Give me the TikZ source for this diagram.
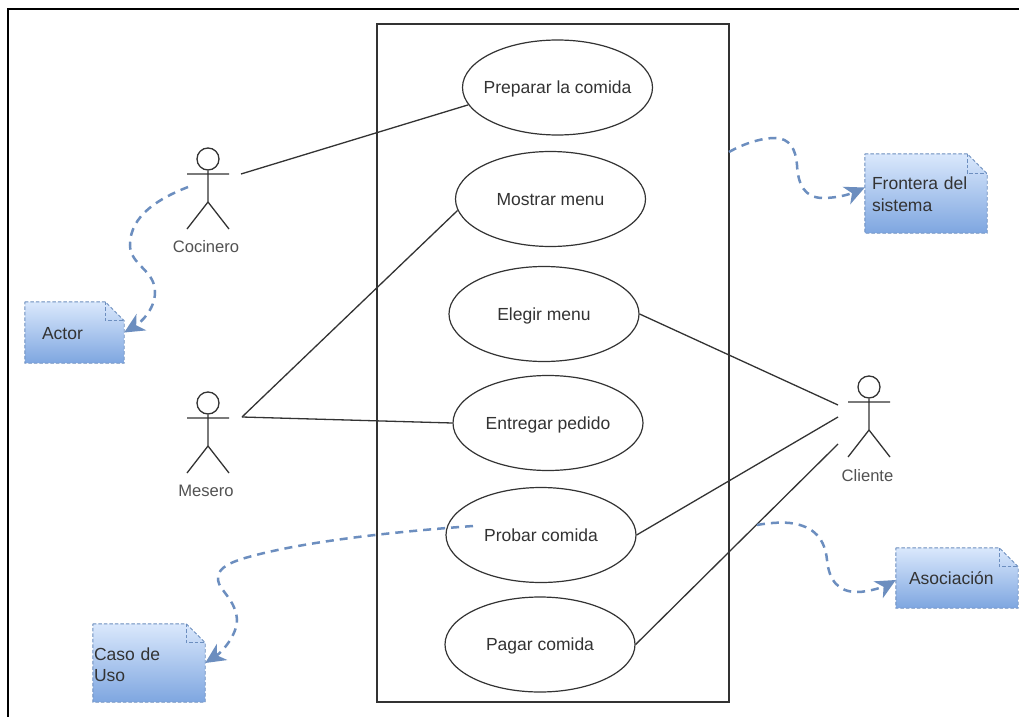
\documentclass[tikz,border=0pt]{standalone}
\usepackage{fontspec}
\setmainfont{Liberation Sans}
\usetikzlibrary{shapes.geometric,arrows.meta,backgrounds}
\definecolor{notetop}{HTML}{DAE8FC}
\definecolor{notebot}{HTML}{7EA6E0}
\definecolor{noteline}{HTML}{6C8EBF}
\definecolor{ink}{HTML}{333333}
\tikzset{
  usecase/.style={ellipse,draw=ink,line width=1.2pt,minimum width=190pt,minimum height=95pt,inner sep=0pt,text=ink,font=\fontsize{17.5}{21}\selectfont},
  assoc/.style={draw=ink,line width=1.3pt},
  actorline/.style={draw=ink,line width=1.3pt},
  actorlabel/.style={text=ink!85,inner sep=0pt,font=\fontsize{16.6}{20}\selectfont},
  notebox/.style={rectangle,inner ysep=0pt,text=ink,align=left,font=\fontsize{17.5}{22}\selectfont},
  notedash/.style={draw=noteline,line width=0.9pt,dash pattern=on 3.5pt off 2pt},
  callout/.style={draw=noteline,line width=2.5pt,dash pattern=on 8pt off 6pt,-{Stealth[length=20pt,width=19pt,inset=6pt,fill=noteline]}},
}
\newcommand{\uctext}[1]{\raisebox{-6.2pt}[0pt][0pt]{\makebox[0pt]{#1}}}
\newcommand{\notefig}[2]{%
  \begin{pgfonlayer}{background}
    \shade[top color=notetop,bottom color=notebot] (#1.north west) -- ([xshift=-#2pt]#1.north east) -- ([yshift=-#2pt]#1.north east) -- (#1.south east) -- (#1.south west) -- cycle;
    \path[notedash] (#1.north west) -- ([xshift=-#2pt]#1.north east) -- ([yshift=-#2pt]#1.north east) -- (#1.south east) -- (#1.south west) -- cycle;
    \path[notedash] ([xshift=-#2pt]#1.north east) -- ([xshift=-#2pt,yshift=-#2pt]#1.north east) -- ([yshift=-#2pt]#1.north east);
  \end{pgfonlayer}}
\newcommand{\stick}[3]{%
  \node[circle,actorline,minimum size=22pt,inner sep=0pt] (#1head) at (#2,#3) {};
  \coordinate (#1neck) at (#2,#3+15);
  \coordinate (#1hip) at (#2,#3+43);
  \coordinate (#1la) at (#2-21,#3+15);
  \coordinate (#1ra) at (#2+21,#3+15);
  \coordinate (#1lf) at (#2-21,#3+70);
  \coordinate (#1rf) at (#2+21,#3+70);
  \path[actorline] (#1head) -- (#1hip) (#1la) -- (#1ra) (#1lf) -- (#1hip) -- (#1rf);}
\begin{document}
\begin{tikzpicture}[x=1pt,y=-1pt]
\useasboundingbox (0,0) rectangle (1019,717);
\begin{pgfonlayer}{background}
\fill[white] (0,0) rectangle (1019,717);
\end{pgfonlayer}
% outer frame
\coordinate (frameA) at (1019,9);
\coordinate (frameB) at (8,9);
\coordinate (frameC) at (8,717);
\draw[black,line width=2.8pt] (frameA) -- (frameB) -- (frameC);
% system boundary
\node[draw=ink,line width=1.4pt,rectangle,minimum width=352pt,minimum height=678pt,inner sep=0pt] (sistema) at (553,363) {};
% use cases
\node[usecase] (preparar) at (557.5,87.5) {\uctext{Preparar la comida}};
\node[usecase] (mostrar) at (550.5,199) {\uctext{Mostrar menu}};
\node[usecase] (elegir) at (544,314) {\uctext{Elegir menu}};
\node[usecase] (entregar) at (548,423) {\uctext{Entregar pedido}};
\node[usecase] (probar) at (541,535) {\uctext{Probar comida}};
\node[usecase] (pagar) at (540,644.5) {\uctext{Pagar comida}};
% actors
\stick{coc}{208}{159}
\stick{mes}{208}{403}
\stick{cli}{869}{387}
\node[actorlabel] (cocinero) at (206,247) {Cocinero};
\node[actorlabel] (mesero) at (206,491) {Mesero};
\node[actorlabel] (cliente) at (867.5,476) {Cliente};
% association ends
\coordinate (cocEnd) at (241,174);
\coordinate (mesEnd) at (242,417);
\coordinate (cliEndA) at (838,405);
\coordinate (cliEndB) at (838,417);
\coordinate (cliEndC) at (838,444);
\draw[assoc] (cocEnd) -- (preparar.191);
\draw[assoc] (mesEnd) -- (mostrar.187);
\draw[assoc] (mesEnd) -- (entregar.west);
\draw[assoc] (cliEndA) -- (elegir.east);
\draw[assoc] (cliEndB) -- (probar.east);
\draw[assoc] (cliEndC) -- (pagar.east);
% notes
\node[notebox,minimum width=99pt,minimum height=61pt,text width=65pt,inner xsep=17pt] (nactor) at (74.5,332.5) {\rule{0pt}{15pt}Actor};
\notefig{nactor}{19}
\node[notebox,minimum width=122pt,minimum height=79pt,text width=108pt,inner xsep=7pt] (nfrontera) at (926,193.5) {\rule{0pt}{15pt}Frontera del\\sistema};
\notefig{nfrontera}{20}
\node[notebox,minimum width=122pt,minimum height=60pt,text width=96pt,inner xsep=13pt] (nasociacion) at (957,578) {Asociación};
\notefig{nasociacion}{19}
\node[notebox,minimum width=112pt,minimum height=78pt,text width=110pt,inner xsep=1pt] (ncaso) at (149,663) {\rule{0pt}{16.5pt}Caso de\\[-1pt]Uso};
\notefig{ncaso}{19}
% callouts
\coordinate (sActor) at (188,187);
\coordinate (sFrontera) at (729,152);
\coordinate (sAsoc) at (757,525);
\coordinate (sCaso) at (473,526);
\draw[callout] (sActor) .. controls (160,198) and (130,215) .. (130,245) .. controls (130,265) and (155,270) .. (155,292) .. controls (155,310) and (140,323) .. (nactor.east);
\draw[callout] (sFrontera) .. controls (745,143) and (762,138) .. (775,138) .. controls (790,138) and (796,150) .. (797,165) .. controls (798,185) and (805,198) .. (823,198) .. controls (838,198) and (850,194) .. ([yshift=6pt]nfrontera.west);
\draw[callout] (sAsoc) .. controls (768,523) and (780,522) .. (790,523) .. controls (815,526) and (825,540) .. (827,560) .. controls (829,580) and (838,592) .. (857,592) .. controls (870,592) and (885,586) .. ([yshift=-2pt]nasociacion.west);
\draw[callout] (sCaso) .. controls (390,532) and (300,542) .. (245,558) .. controls (225,564) and (217,570) .. (218,580) .. controls (219,590) and (236,600) .. (237,620) .. controls (237,635) and (222,652) .. (ncaso.east);
\end{tikzpicture}
\end{document}
